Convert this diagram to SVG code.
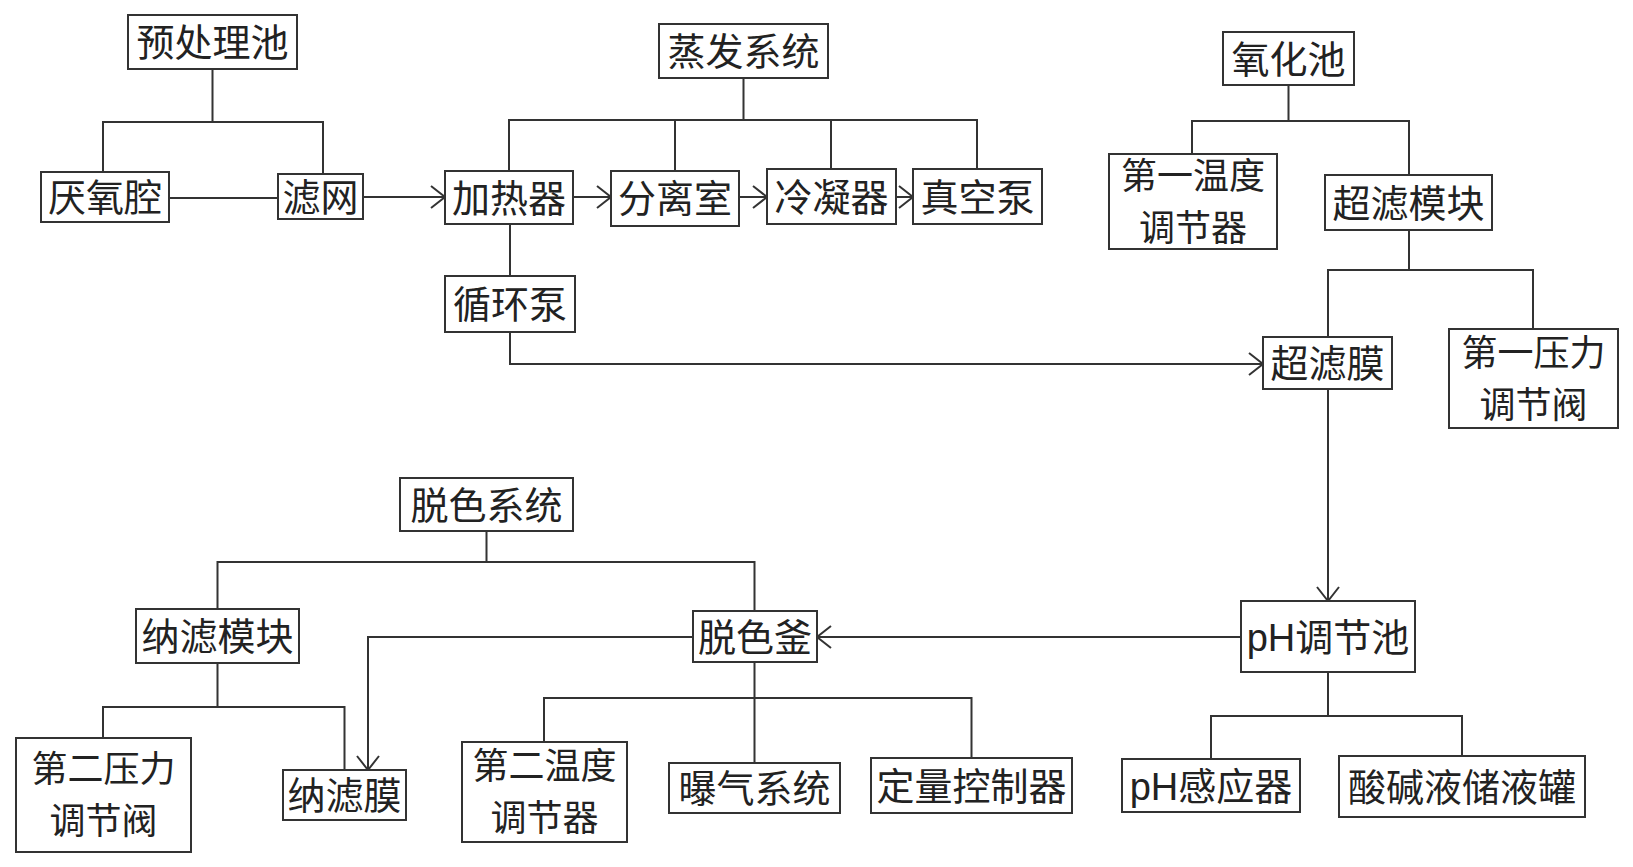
<svg xmlns="http://www.w3.org/2000/svg" width="1633" height="867" viewBox="0 0 1633 867">
<style>
.box{fill:#fff;stroke:#333;stroke-width:2}
.t{font-family:"Noto Sans CJK SC","Liberation Sans",sans-serif;font-size:38px;fill:#222;text-anchor:middle}
.t2{font-family:"Noto Sans CJK SC","Liberation Sans",sans-serif;font-size:36px;fill:#222;text-anchor:middle}
.ln{fill:none;stroke:#333;stroke-width:2}
</style>
<defs>
<marker id="arr" viewBox="0 0 16 24" refX="15" refY="12" markerWidth="16" markerHeight="24" orient="auto" markerUnits="userSpaceOnUse">
<path d="M1,1 L15,12 L1,23" fill="none" stroke="#333" stroke-width="2"/>
</marker>
</defs>
<rect width="1633" height="867" fill="#fff"/>
<g id="connectors">
<path class="ln" d="M212.5,69 V122 M103,172 V122 H323 V174"/>
<path class="ln" d="M169,198 H278"/>
<path class="ln" d="M363,197 H445" marker-end="url(#arr)"/>
<path class="ln" d="M573,197 H611" marker-end="url(#arr)"/>
<path class="ln" d="M739,197 H767" marker-end="url(#arr)"/>
<path class="ln" d="M896,197 H913" marker-end="url(#arr)"/>
<path class="ln" d="M743.5,78 V120 M509,171 V120 H977 V169 M675,120 V171 M831,120 V169"/>
<path class="ln" d="M510,224 V276"/>
<path class="ln" d="M510,332 V364 H1263" marker-end="url(#arr)"/>
<path class="ln" d="M1288.5,85 V121 M1192,154 V121 H1409 V175"/>
<path class="ln" d="M1409,230 V270 M1328,337 V270 H1533 V329"/>
<path class="ln" d="M1328,389 V601" marker-end="url(#arr)"/>
<path class="ln" d="M1241,637 H817" marker-end="url(#arr)"/>
<path class="ln" d="M693,637 H368 V770" marker-end="url(#arr)"/>
<path class="ln" d="M486.5,531 V562 M217.5,609 V562 H754.5 V611"/>
<path class="ln" d="M217.5,663 V707 M103,738 V707 H344.5 V770"/>
<path class="ln" d="M754.5,662 V763 M544,742 V698 H971.5 V758"/>
<path class="ln" d="M1328,672 V716 M1211,759 V716 H1462 V756"/>
</g>
<g id="n1"><rect class="box" x="128" y="15" width="169" height="54"/><text class="t" x="212.5" y="56">预处理池</text></g>
<g id="n2"><rect class="box" x="41" y="172" width="128" height="50"/><text class="t" x="105" y="211">厌氧腔</text></g>
<g id="n3"><rect class="box" x="278" y="174" width="85" height="45"/><text class="t" x="320.5" y="210.5">滤网</text></g>
<g id="n4"><rect class="box" x="445" y="171" width="128" height="53"/><text class="t" x="509" y="211.5">加热器</text></g>
<g id="n5"><rect class="box" x="611" y="171" width="128" height="55"/><text class="t" x="675" y="212">分离室</text></g>
<g id="n6"><rect class="box" x="767" y="169" width="129" height="55"/><text class="t" x="831.5" y="210.5">冷凝器</text></g>
<g id="n7"><rect class="box" x="913" y="169" width="129" height="55"/><text class="t" x="977.5" y="210.5">真空泵</text></g>
<g id="n8"><rect class="box" x="659" y="24" width="169" height="54"/><text class="t" x="743.5" y="65">蒸发系统</text></g>
<g id="n9"><rect class="box" x="445" y="276" width="130" height="56"/><text class="t" x="510" y="318">循环泵</text></g>
<g id="n10"><rect class="box" x="1223" y="32" width="131" height="53"/><text class="t" x="1288.5" y="72.5">氧化池</text></g>
<g id="n11"><rect class="box" x="1109" y="154" width="168" height="95"/><text class="t2" x="1193" y="188.5">第一温度</text><text class="t2" x="1193" y="240.5">调节器</text></g>
<g id="n12"><rect class="box" x="1325" y="175" width="167" height="55"/><text class="t" x="1408.5" y="216.5">超滤模块</text></g>
<g id="n13"><rect class="box" x="1263" y="337" width="129" height="52"/><text class="t" x="1327.5" y="377">超滤膜</text></g>
<g id="n14"><rect class="box" x="1449" y="329" width="169" height="99"/><text class="t2" x="1533.5" y="365.5">第一压力</text><text class="t2" x="1533.5" y="417.5">调节阀</text></g>
<g id="n15"><rect class="box" x="400" y="478" width="173" height="53"/><text class="t" x="486.5" y="518.5">脱色系统</text></g>
<g id="n16"><rect class="box" x="136" y="609" width="163" height="54"/><text class="t" x="217.5" y="650">纳滤模块</text></g>
<g id="n17"><rect class="box" x="693" y="611" width="124" height="51"/><text class="t" x="755" y="650.5">脱色釜</text></g>
<g id="n18"><rect class="box" x="1241" y="601" width="174" height="71"/><text class="t" x="1328" y="650.5"><tspan font-family="Liberation Sans, sans-serif">pH</tspan>调节池</text></g>
<g id="n19"><rect class="box" x="16" y="738" width="175" height="114"/><text class="t2" x="103.5" y="782">第二压力</text><text class="t2" x="103.5" y="834">调节阀</text></g>
<g id="n20"><rect class="box" x="283" y="770" width="123" height="50"/><text class="t" x="344.5" y="809">纳滤膜</text></g>
<g id="n21"><rect class="box" x="462" y="742" width="165" height="100"/><text class="t2" x="544.5" y="779">第二温度</text><text class="t2" x="544.5" y="831">调节器</text></g>
<g id="n22"><rect class="box" x="669" y="763" width="171" height="50"/><text class="t" x="754.5" y="802">曝气系统</text></g>
<g id="n23"><rect class="box" x="871" y="758" width="201" height="55"/><text class="t" x="971.5" y="799.5">定量控制器</text></g>
<g id="n24"><rect class="box" x="1122" y="759" width="178" height="53"/><text class="t" x="1211" y="799.5"><tspan font-family="Liberation Sans, sans-serif">pH</tspan>感应器</text></g>
<g id="n25"><rect class="box" x="1339" y="756" width="246" height="61"/><text class="t" x="1462" y="800.5">酸碱液储液罐</text></g>
</svg>
